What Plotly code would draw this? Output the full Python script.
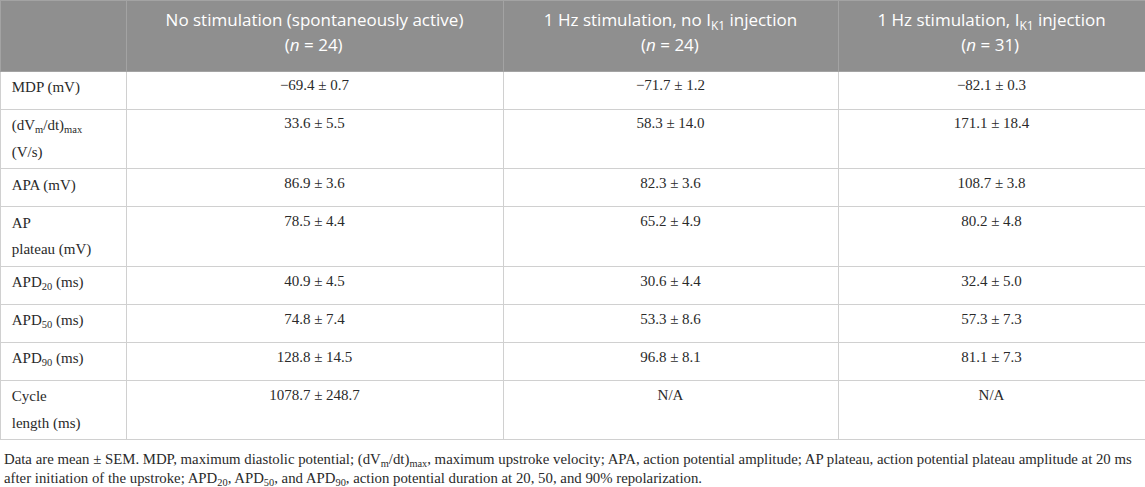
import plotly.graph_objects as go

# Table content
header_line1 = [
    "",
    "No stimulation (spontaneously active)",
    "1 Hz stimulation, no I<sub>K1</sub> injection",
    "1 Hz stimulation, I<sub>K1</sub> injection",
]
header_line2 = ["", "(<i>n</i> = 24)", "(<i>n</i> = 24)", "(<i>n</i> = 31)"]
params = [
    ["MDP (mV)"],
    ["(dV<sub>m</sub>/dt)<sub>max</sub>", "(V/s)"],
    ["APA (mV)"],
    ["AP", "plateau (mV)"],
    ["APD<sub>20</sub> (ms)"],
    ["APD<sub>50</sub> (ms)"],
    ["APD<sub>90</sub> (ms)"],
    ["Cycle", "length (ms)"],
]
no_stim = ["−69.4 ± 0.7", "33.6 ± 5.5", "86.9 ± 3.6", "78.5 ± 4.4",
           "40.9 ± 4.5", "74.8 ± 7.4", "128.8 ± 14.5", "1078.7 ± 248.7"]
stim_no_ik1 = ["−71.7 ± 1.2", "58.3 ± 14.0", "82.3 ± 3.6", "65.2 ± 4.9",
               "30.6 ± 4.4", "53.3 ± 8.6", "96.8 ± 8.1", "N/A"]
stim_ik1 = ["−82.1 ± 0.3", "171.1 ± 18.4", "108.7 ± 3.8", "80.2 ± 4.8",
            "32.4 ± 5.0", "57.3 ± 7.3", "81.1 ± 7.3", "N/A"]
col_widths = [126, 377, 335, 307]

footnote = (
    "Data are mean ± SEM. MDP, maximum diastolic potential; (dV<sub>m</sub>/dt)<sub>max</sub>, "
    "maximum upstroke velocity; APA, action potential amplitude; AP plateau, action potential "
    "plateau amplitude at 20 ms<br>after initiation of the upstroke; APD<sub>20</sub>, "
    "APD<sub>50</sub>, and APD<sub>90</sub>, action potential duration at 20, 50, and 90% repolarization."
)

NB = "\u00a0"
HEAD_PX = 17
BODY_PX = 15

# plotly centres a multi-line block but not each line, so pad the short line
pad_counts = [0, 27, 22, 19]


def span(txt, px):
    return f"<span style='font-size:{px}px'>{txt}</span>"


header = []
for l1, l2, p in zip(header_line1, header_line2, pad_counts):
    if l1:
        header.append(span(l1, HEAD_PX) + "<br>" + span(NB * p + l2, HEAD_PX))
    else:
        header.append("")

# first column: larger base size gives the looser line spacing, text kept at 15px.
# every cell carries a <br> so plotly does not try to word-wrap the span tags
param_text = []
for lines in params:
    txt = "<br>".join(span(NB + s, BODY_PX) for s in lines)
    if len(lines) == 1:
        txt += "<br>"
    param_text.append(txt)

fig = go.Figure(go.Table(
    columnwidth=col_widths,
    header=dict(
        values=header,
        fill_color="#8f8f8f",
        line_color="#a3a3a3",
        font=dict(family="Open Sans", size=19, color="white"),
        align=["left", "center", "center", "center"],
        height=71,
    ),
    cells=dict(
        values=[param_text, no_stim, stim_no_ik1, stim_ik1],
        fill_color="white",
        line_color="#d0d0d0",
        font=dict(family="Liberation Serif",
                  size=[20.5, BODY_PX, BODY_PX, BODY_PX],
                  color="#2a2a2a"),
        align=["left", "center", "center", "center"],
        height=38,
    ),
    domain=dict(x=[0, 1], y=[0.08, 1]),
))

fig.add_annotation(
    text=footnote, xref="paper", yref="paper", x=0.002, y=0.079,
    xanchor="left", yanchor="top", align="left", showarrow=False,
    font=dict(family="Liberation Serif", size=14.8, color="#2a2a2a"),
)

fig.update_layout(
    width=1145, height=487,
    margin=dict(l=0, r=0, t=0, b=0),
    paper_bgcolor="white",
)

fig.write_html("out.html", config={"displayModeBar": False},
               post_script="document.body.style.margin='0';")
